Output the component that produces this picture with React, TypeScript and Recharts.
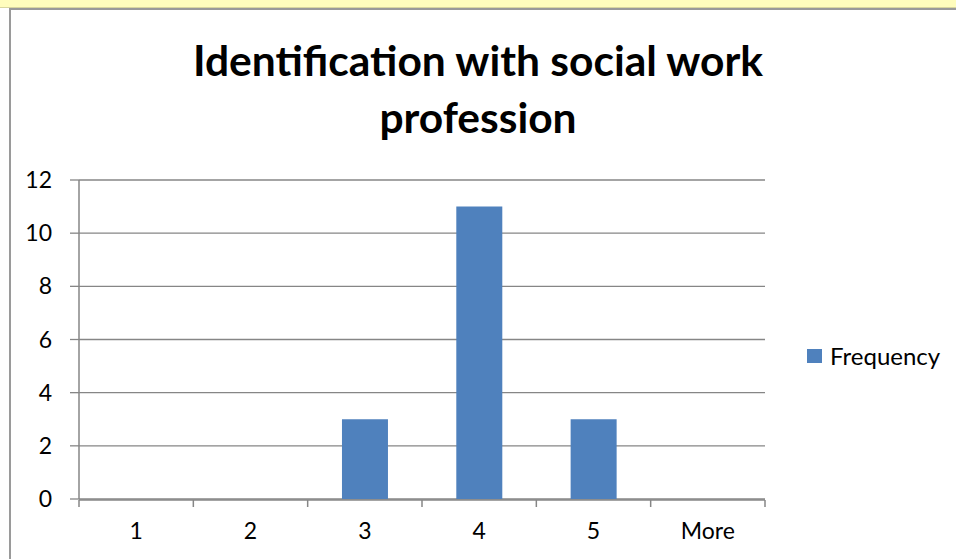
import React from "react";
import { BarChart, Bar, XAxis, YAxis, CartesianGrid } from "recharts";

const bins = ["1", "2", "3", "4", "5", "More"];
const frequency = [0, 0, 3, 11, 3, 0];
const yTicks = [0, 2, 4, 6, 8, 10, 12];
const binEdges = [0, 1, 2, 3, 4, 5, 6];

const data = bins.map((bin, i) => ({ bin, Frequency: frequency[i], idx: i + 0.5 }));

const AXIS = "#868686";
const BAR = "#4F81BD";
const FONT = "Lato, 'Open Sans', sans-serif";

export default function App() {
  return (
    <div style={{ position: "absolute", left: 0, top: 0, width: 956, height: 559, background: "#fff", overflow: "hidden" }}>
      <div style={{ position: "absolute", left: 0, top: 0, width: 956, height: 7, background: "#FFFDBD", borderBottom: "1px solid #D8D6A0" }} />
      <div style={{ position: "absolute", left: 9, top: 8, width: 960, height: 560, borderLeft: "2px solid #9A9A9A", borderTop: "2px solid #9A9A9A" }} />
      <div
        style={{
          position: "absolute",
          left: 0,
          top: 31,
          width: 956,
          textAlign: "center",
          fontFamily: FONT,
          fontWeight: 700,
          fontSize: 42.5,
          lineHeight: "57px",
          color: "#000",
        }}
      >
        Identification with social work
        <br />
        profession
      </div>
      <BarChart
        width={956}
        height={559}
        data={data}
        margin={{ top: 180, right: 191, bottom: 58, left: 19 }}
        barCategoryGap="30%"
        style={{ position: "absolute", left: 0, top: 0 }}
      >
        <CartesianGrid horizontal vertical={false} stroke={AXIS} strokeWidth={1.3} />
        {/* tick marks on the bin boundaries */}
        <XAxis
          xAxisId="edges"
          type="number"
          dataKey="idx"
          domain={[0, 6]}
          ticks={binEdges}
          height={1}
          tickSize={7}
          tickFormatter={() => ""}
          axisLine={{ stroke: AXIS, strokeWidth: 1.5 }}
          tickLine={{ stroke: AXIS, strokeWidth: 1.5 }}
        />
        <XAxis
          xAxisId="cat"
          dataKey="bin"
          height={1}
          axisLine={false}
          tickLine={false}
          tickSize={0}
          tickMargin={24}
          interval={0}
          tick={{ fill: "#000", fontSize: 23, fontFamily: FONT }}
        />
        <YAxis
          domain={[0, 12]}
          ticks={yTicks}
          width={60}
          tickSize={9}
          tickMargin={18}
          axisLine={{ stroke: AXIS, strokeWidth: 1.5 }}
          tickLine={{ stroke: AXIS, strokeWidth: 1.3 }}
          tick={{ fill: "#000", fontSize: 23, fontFamily: FONT }}
        />
        <Bar dataKey="Frequency" xAxisId="cat" fill={BAR} isAnimationActive={false} />
      </BarChart>
      <div
        style={{
          position: "absolute",
          left: 807,
          top: 341,
          display: "flex",
          alignItems: "center",
          fontFamily: FONT,
          fontSize: 24,
          color: "#000",
        }}
      >
        <span style={{ width: 15, height: 14, background: BAR, marginRight: 8, display: "inline-block" }} />
        Frequency
      </div>
    </div>
  );
}
